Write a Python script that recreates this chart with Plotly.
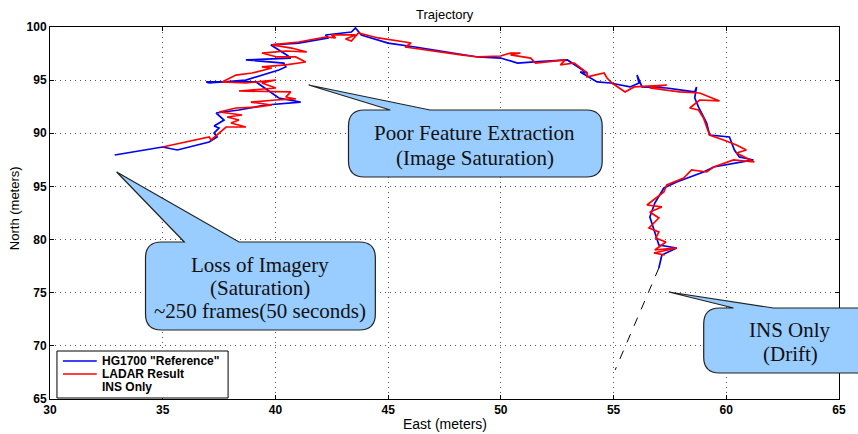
import plotly.graph_objects as go

title_text = "Trajectory"
x_label = "East (meters)"
y_label = "North (meters)"
x_ticks = [30, 35, 40, 45, 50, 55, 60, 65]
x_ticktext = ["30", "35", "40", "45", "50", "55", "60", "65"]
y_ticks = [65, 70, 75, 80, 85, 90, 95, 100]
y_ticktext = ["65", "70", "75", "80", "95", "90", "95", "100"]

hg_east = [32.87, 34.99, 35.65, 37.06, 37.41, 37.28, 37.50, 37.28, 37.72, 37.37, 38.38, 39.58,
           41.12, 40.15, 39.14, 36.93, 37.06, 38.69, 40.15, 40.46, 40.37, 38.69, 40.68, 40.50,
           39.80, 41.03, 42.36, 42.22, 43.37, 43.55, 43.81, 45.00, 46.20, 48.98, 49.99, 50.74,
           51.49, 52.95, 53.83, 53.52, 54.27, 54.85, 55.73, 56.13, 56.04, 56.26, 57.36, 58.60,
           58.68, 58.60, 58.77, 59.13, 59.26, 60.14, 60.36, 60.58, 61.20, 59.44, 58.99, 57.80,
           57.23, 56.83, 56.61, 56.83, 57.01, 57.80, 57.14, 57.01]
hg_north = [87.96, 88.71, 88.43, 89.18, 89.65, 90.03, 90.50, 90.69, 91.25, 91.91, 92.19, 92.66,
            92.94, 93.32, 94.83, 94.83, 94.73, 95.01, 95.95, 96.24, 96.61, 96.90, 97.08, 97.37,
            98.31, 98.49, 98.97, 99.25, 99.53, 99.91, 99.25, 98.49, 98.12, 97.18, 97.08, 96.61,
            96.71, 96.90, 95.67, 95.77, 94.83, 94.73, 94.36, 94.73, 95.48, 94.36, 94.26, 93.89,
            94.36, 93.32, 92.47, 90.97, 89.84, 89.65, 88.43, 87.78, 87.49, 86.83, 86.36, 85.42,
            84.85, 83.44, 82.13, 80.71, 79.49, 79.21, 78.55, 77.33]

ladar_east = [34.99, 37.06, 37.15, 37.41, 37.81, 38.69, 38.03, 38.38, 37.86, 38.52, 37.50, 38.25,
              39.14, 39.84, 38.91, 40.02, 40.90, 40.46, 40.68, 38.38, 40.02, 39.40, 40.02, 38.69,
              37.63, 38.25, 38.96, 39.84, 39.40, 40.46, 41.34, 40.90, 40.06, 39.40, 40.46, 41.39,
              40.72, 39.84, 41.03, 42.22, 42.67, 42.49, 43.55, 43.11, 43.37, 43.68, 44.56, 45.75,
              46.02, 45.75, 47.21, 48.23, 48.98, 49.99, 50.43, 50.87, 50.43, 51.32, 51.54, 52.07,
              52.86, 52.64, 53.26, 53.83, 53.83, 54.58, 54.71, 54.93, 55.51, 55.91, 57.36, 56.61,
              57.93, 58.82, 59.70, 58.82, 58.38, 58.77, 58.99, 59.13, 59.26, 59.88, 60.45, 60.89,
              60.45, 61.24, 60.32, 59.44, 59.13, 58.46, 58.11, 57.36, 57.23, 56.48, 57.14, 56.61,
              57.01, 56.57, 57.01, 56.87, 57.32, 56.83, 57.80, 56.79, 57.27]
ladar_north = [88.71, 89.65, 89.37, 89.84, 90.59, 90.59, 90.97, 91.25, 91.53, 91.72, 92.00, 92.38,
               92.47, 92.66, 92.94, 93.13, 93.23, 93.41, 93.89, 93.98, 94.26, 94.73, 95.01, 94.73,
               94.83, 95.48, 95.67, 96.14, 96.24, 96.43, 96.71, 97.18, 97.18, 97.55, 97.74, 97.65,
               98.02, 98.31, 98.59, 99.06, 98.97, 99.25, 99.25, 98.87, 98.68, 99.44, 98.97, 98.59,
               98.49, 98.12, 97.65, 97.37, 97.18, 97.27, 97.55, 97.55, 97.37, 97.08, 96.61, 96.71,
               96.90, 96.43, 96.61, 95.67, 95.30, 95.67, 95.20, 94.73, 93.89, 94.36, 94.54, 94.26,
               93.89, 93.79, 93.04, 93.13, 92.38, 92.19, 91.44, 90.59, 89.84, 89.37, 88.90, 88.43,
               88.15, 87.30, 87.49, 86.83, 86.36, 86.55, 85.79, 85.14, 84.48, 83.25, 83.07, 82.60,
               82.03, 81.09, 80.71, 80.15, 79.77, 79.02, 79.21, 78.74, 78.55]

ins_east = [57.01, 55.07]
ins_north = [77.33, 67.73]

series_names = ['HG1700 "Reference"', "LADAR Result", "INS Only"]
series_colors = ["#0000EE", "#FF0000", "black"]

callout_lines = [["Poor Feature Extraction", "(Image Saturation)"],
                 ["Loss of Imagery", "(Saturation)", "~250 frames(50 seconds)"],
                 ["INS Only", "(Drift)"]]

# ---- layout geometry (pixels of the 858x434 page) ----
W, H = 858, 434
L, R, T, B = 50, 843, 27, 399


def P(px, py):
    return (px - L) / (R - L), (B - py) / (B - T)


def bubble_path(x0, y0, x1, y1, r, tip, ba, bb):
    def f(px, py):
        a, b = P(px, py)
        return f"{a:.5f},{b:.5f}"
    s = (f"M {f(x0 + r, y0)} L {f(ba, y0)} L {f(*tip)} L {f(bb, y0)} L {f(x1 - r, y0)} "
         f"Q {f(x1, y0)} {f(x1, y0 + r)} L {f(x1, y1 - r)} Q {f(x1, y1)} {f(x1 - r, y1)} "
         f"L {f(x0 + r, y1)} Q {f(x0, y1)} {f(x0, y1 - r)} L {f(x0, y0 + r)} "
         f"Q {f(x0, y0)} {f(x0 + r, y0)} Z")
    return s


fig = go.Figure()
fig.add_trace(go.Scatter(x=ins_east, y=ins_north, mode="lines", name=series_names[2],
                         line=dict(color=series_colors[2], width=1, dash="dash")))
fig.add_trace(go.Scatter(x=hg_east, y=hg_north, mode="lines", name=series_names[0],
                         line=dict(color=series_colors[0], width=1.7)))
fig.add_trace(go.Scatter(x=ladar_east, y=ladar_north, mode="lines", name=series_names[1],
                         line=dict(color=series_colors[1], width=1.7)))

serif = "Liberation Serif, Times New Roman, serif"
sans = "Liberation Sans, Arial, sans-serif"

bubbles = [
    dict(box=(350, 110, 605, 177), tip=(310, 85), base=(392, 432), cx=477, ys=[133, 158]),
    dict(box=(146, 242, 377, 330), tip=(117, 172), base=(185, 240), cx=261, ys=[265, 288, 311]),
    dict(box=(707, 308, 890, 373), tip=(672, 292), base=(737, 777), cx=794, ys=[330, 354]),
]
shapes = []
annotations = []
for b, lines in zip(bubbles, callout_lines):
    x0, y0, x1, y1 = b["box"]
    shapes.append(dict(type="path", xref="paper", yref="paper", layer="above",
                       path=bubble_path(x0, y0, x1, y1, 16, b["tip"], b["base"][0], b["base"][1]),
                       fillcolor="#99CCFF", line=dict(color="#222222", width=1.2)))
    for ln, yy in zip(lines, b["ys"]):
        ax_, ay_ = P(b["cx"], yy)
        annotations.append(dict(x=ax_, y=ay_, xref="paper", yref="paper", text=ln, showarrow=False,
                                xanchor="center", yanchor="middle",
                                font=dict(family=serif, size=21, color="#111111")))

# manual legend box (compact, as in the reference)
lx0, ly0, lx1, ly1 = 57, 351, 229, 398
a0, b0 = P(lx0, ly1)
a1, b1 = P(lx1, ly0)
shapes.append(dict(type="rect", xref="paper", yref="paper", layer="above", x0=a0, y0=b0, x1=a1, y1=b1,
                   fillcolor="white", line=dict(color="black", width=1)))
for i, (nm, col) in enumerate(zip(series_names, series_colors)):
    yy = 361 + 13 * i
    if i < 2:
        s0, sy = P(63, yy)
        s1, _ = P(97, yy)
        shapes.append(dict(type="line", xref="paper", yref="paper", layer="above",
                           x0=s0, x1=s1, y0=sy, y1=sy, line=dict(color=col, width=1.7)))
    tx_, ty_ = P(100, yy)
    annotations.append(dict(x=tx_, y=ty_, xref="paper", yref="paper", text=nm, showarrow=False,
                            xanchor="left", yanchor="middle",
                            font=dict(family=sans, size=12, color="black", weight="bold")))

tx, ty = P(447, 14)
annotations.append(dict(x=tx, y=ty, xref="paper", yref="paper", text=title_text, showarrow=False,
                        xanchor="center", yanchor="middle", font=dict(family=sans, size=13, color="black")))
ex, ey = P(447, 424)
annotations.append(dict(x=ex, y=ey, xref="paper", yref="paper", text=x_label, showarrow=False,
                        xanchor="center", yanchor="middle",
                        font=dict(family=sans, size=14, color="black")))
nx, ny = P(14, 208)
annotations.append(dict(x=nx, y=ny, xref="paper", yref="paper", text=y_label, showarrow=False,
                        textangle=-90, xanchor="center", yanchor="middle",
                        font=dict(family=sans, size=13, color="black")))

axis_common = dict(showline=True, linecolor="black", linewidth=1, mirror="ticks",
                   ticks="inside", ticklen=4, tickcolor="black",
                   showgrid=True, gridcolor="#555555", gridwidth=1, griddash="1px,4px",
                   zeroline=False, tickfont=dict(family=sans, size=12, color="black", weight="bold"))

fig.update_layout(
    width=W, height=H,
    margin=dict(l=L, r=W - R, t=T, b=H - B),
    paper_bgcolor="white", plot_bgcolor="white",
    xaxis=dict(range=[30, 65], tickvals=x_ticks, ticktext=x_ticktext, **axis_common),
    yaxis=dict(range=[65, 100], tickvals=y_ticks, ticktext=y_ticktext, **axis_common),
    showlegend=False,
    shapes=shapes,
    annotations=annotations,
)

fig.write_html("out.html", config={"displayModeBar": False},
               post_script="document.body.style.margin='0';document.body.style.overflow='hidden';")
